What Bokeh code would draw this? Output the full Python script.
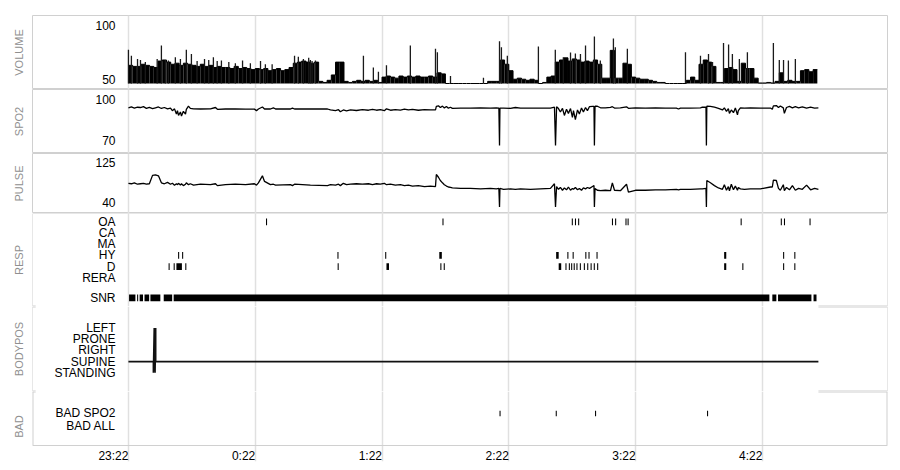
from bokeh.plotting import figure
from bokeh.layouts import column
from bokeh.models import FixedTicker, Range1d, Title, Span, Grid
from bokeh.embed import file_html
from bokeh.resources import INLINE

# ---------------- data (time = minutes after 23:22) ----------------
X_TICKS = [0, 60, 120, 180, 240, 300]
X_TICK_LABELS = ["23:22", "0:22", "1:22", "2:22", "3:22", "4:22"]

# respiration volume: 2-minute envelope + individual breath spikes
VOL_T = list(range(0, 326, 2))
VOL_FILL = [67, 66, 66, 68, 67, 66, 65, 71, 72, 70, 68, 69, 67, 69, 68, 67, 66, 68, 66, 67,
            65, 66, 65, 65, 64, 66, 64, 65, 64, 63, 64, 63, 64, 62, 63, 64, 62, 63, 65, 69,
            70, 71, 70, 69, 70, 52, 51, 53, 58, 70, 70, 52, 51, 52, 53, 52, 53, 52, 53, 51,
            56, 57, 56, 55, 57, 56, 57, 56, 57, 56, 56, 57, 56, 60, 59, 50, 50, 50, 50, 50,
            50, 50, 50, 50, 50, 52, 52, 52, 72, 68, 62, 54, 55, 54, 53, 54, 53, 50, 51, 56,
            57, 70, 72, 74, 71, 73, 72, 70, 71, 70, 72, 68, 55, 55, 81, 55, 55, 69, 68, 56,
            55, 54, 54, 53, 52, 51, 51, 50, 50, 50, 50, 50, 53, 56, 53, 68, 72, 70, 66, 51,
            51, 64, 65, 63, 52, 69, 64, 64, 55, 50.5, 50.5, 51, 50.5, 52, 60, 52, 53, 52, 52,
            62, 63, 61, 63]
VOL_SPIKE_T = [0.0, 1.4, 4.3, 5.7, 8.0, 13.6, 15.6, 17.5, 18.9, 22.2,
               24.6, 27.4, 29.8, 32.5, 36.0, 38.0, 40.2, 42.0, 44.0, 47.5,
               50.6, 54.0, 57.7, 62.5, 64.8, 68.0, 78.6, 80.4, 82.8, 85.3,
               86.1, 86.9, 88.5, 111.2, 115.9, 118.3, 122.1, 133.4, 145.3, 146.2,
               152.4, 168.0, 175.6, 176.5, 179.3, 194.0, 202.0, 205.8, 209.2, 211.5,
               213.9, 216.3, 220.5, 223.3, 229.5, 230.4, 236.1, 263.6, 270.7, 274.5,
               276.4, 281.6, 284.0, 285.8, 289.1, 292.9, 305.2, 308.0, 310.0, 312.3,
               315.6]
VOL_SPIKE_V = [81.5, 76, 73, 72, 70, 73, 85.5, 72, 71.5, 74.6,
               73, 81.5, 77.7, 71, 73, 72, 74.6, 71, 71.5, 70,
               69, 71.5, 69, 71, 68, 68, 76, 75, 73, 74,
               72, 71, 71.5, 76, 65, 61, 67, 85.5, 82.4, 79.3,
               57, 55.5, 89.5, 84, 76, 84.5, 81.5, 74.6, 79, 78,
               77.7, 85.5, 94, 71.5, 92, 84, 82.4, 79.3, 76, 77.7,
               70, 88, 86.5, 77.7, 73, 79.3, 88, 72, 72, 71.5,
               73]

SIG_T = [0, 1.4, 2.8, 4.3, 5.7, 7.1, 8.5, 9.9, 11.4, 12.8,
         14.2, 15.6, 17.0, 18.5, 19.9, 20.8, 21.8, 22.7, 23.2, 23.7,
         24.6, 25.1, 26.0, 27.0, 27.4, 28.4, 29.3, 30.8, 34.1, 38.8,
         41.2, 42.1, 45.9, 50.6, 55.4, 59.6, 60.6, 61.5, 63.4, 64.4,
         67.2, 68.6, 69.6, 76.7, 77.6, 78.6, 86.1, 94.2, 95.6, 98.0,
         99.4, 100.3, 101.7, 103.2, 105.1, 107.9, 110.7, 113.6, 115.5, 117.4,
         119.2, 121.1, 122.1, 124.0, 126.3, 128.7, 130.6, 132.5, 134.4, 137.2,
         140.1, 142.9, 145.3, 145.7, 146.7, 147.6, 148.6, 149.5, 150.5, 151.4,
         152.4, 153.3, 157.1, 161.8, 166.6, 171.3, 174.1, 175.3, 175.6, 175.8,
         177.5, 180.8, 183.1, 185.5, 190.2, 195.0, 199.7, 201.6, 202.1, 202.6,
         203.5, 204.4, 205.4, 206.3, 207.3, 208.2, 209.2, 210.1, 210.6, 211.5,
         212.5, 213.4, 214.4, 215.3, 216.3, 217.2, 218.2, 219.6, 220.3, 220.5,
         220.8, 221.9, 223.4, 225.7, 228.1, 229.0, 230.0, 232.8, 235.7, 236.6,
         239.9, 244.6, 249.4, 254.1, 259.3, 260.3, 261.2, 265.9, 270.7, 271.6,
         273.3, 273.5, 273.7, 275.4, 277.3, 279.2, 281.1, 282.0, 283.0, 283.9,
         284.4, 285.3, 286.3, 287.2, 288.2, 288.6, 289.6, 291.5, 294.3, 299.1,
         303.8, 304.7, 305.2, 306.6, 307.6, 308.5, 309.9, 310.4, 311.4, 312.8,
         314.2, 315.6, 317.1, 318.9, 320.9, 322.8, 324.7, 326.5]
SPO2 = [97.5, 98.2, 97.4, 98.0, 97.8, 98.4, 97.2, 97.9, 97.0, 97.6,
        98.2, 97.1, 97.8, 96.8, 97.4, 95.5, 96.8, 93.0, 95.5, 92.0,
        94.5, 91.5, 95.0, 93.0, 96.5, 98.8, 97.2, 96.8, 96.7, 96.8,
        97.8, 96.5, 96.7, 96.7, 96.6, 96.6, 95.5, 96.7, 98.2, 96.7,
        96.7, 97.6, 96.7, 96.7, 97.4, 96.7, 96.7, 96.7, 96.0, 95.5,
        96.2, 94.7, 96.0, 95.4, 96.0, 95.6, 96.2, 95.8, 96.4, 95.8,
        96.3, 95.5, 96.8, 95.8, 96.3, 95.9, 96.6, 96.0, 96.4, 95.8,
        96.2, 96.0, 96.1, 98.6, 99.0, 97.8, 98.8, 97.5, 98.5, 97.3,
        98.0, 97.2, 97.4, 97.3, 97.5, 97.3, 97.5, 97.4, 70, 97.4,
        97.4, 97.2, 97.8, 97.3, 97.4, 97.3, 97.4, 98.0, 70, 98.3,
        97.0, 94.5, 97.2, 92.0, 96.5, 93.5, 97.0, 90.5, 95.5, 89.0,
        96.0, 93.0, 97.5, 94.5, 97.8, 95.5, 98.5, 98.6, 98.6, 70,
        98.8, 98.7, 97.6, 97.5, 97.9, 98.4, 97.4, 97.5, 98.3, 97.2,
        97.5, 97.4, 97.5, 97.4, 97.3, 96.7, 97.4, 97.4, 97.5, 98.0,
        98.0, 70, 98.8, 98.6, 98.0, 97.2, 96.0, 97.5, 95.0, 97.0,
        93.5, 96.0, 94.0, 97.5, 92.5, 95.5, 97.6, 97.4, 97.5, 97.4,
        97.4, 96.5, 99.0, 99.2, 97.8, 98.9, 97.5, 93.5, 97.8, 98.6,
        97.5, 98.4, 97.6, 98.3, 97.4, 98.0, 97.4, 97.6]
PULSE = [91, 90, 92, 89, 90, 91, 89, 90, 108, 109,
         107, 92, 90, 93, 89, 91, 87, 90, 88, 91,
         87, 90, 86, 89, 92, 88, 90, 87, 89, 88,
         90, 86, 88, 89, 88, 90, 87, 92, 107, 95,
         88, 89, 87, 88, 86, 89, 87, 86, 88, 87,
         89, 86, 91, 88, 89, 90, 89, 90, 88, 90,
         89, 91, 88, 89, 87, 88, 86, 87, 85, 86,
         84, 85, 84, 110, 104, 97, 92, 88, 85, 83,
         82, 81, 80, 80, 79, 80, 79, 80, 40, 80,
         78, 79, 78, 79, 78, 79, 80, 90, 40, 84,
         78, 82, 76, 81, 77, 83, 76, 80, 78, 82,
         77, 80, 76, 81, 79, 82, 80, 84, 86, 40,
         80, 76, 75, 76, 75, 92, 76, 75, 89, 72,
         76, 76, 77, 77, 78, 77, 78, 78, 79, 79,
         80, 40, 97, 92, 86, 81, 78, 88, 76, 84,
         75, 89, 77, 85, 76, 82, 79, 78, 79, 79,
         83, 83, 98, 97, 80, 76, 88, 75, 82, 77,
         86, 76, 80, 78, 87, 77, 80, 78]

RESP_ROWS = ["OA", "CA", "MA", "HY", "D", "RERA", "SNR"]
OA_T = [65.1, 148.6, 209.8, 211.3, 212.8, 228.8, 230.3, 235.2, 236.2, 289.7, 308.7, 310.2, 322.3]
OA_D = [0.5] * 13
HY_T = [23.5, 25.4, 98.9, 121.5, 147.1, 202.4, 207.7, 210.2, 216.2, 217.7, 221.5, 281.9, 309.8, 315.1]
HY_D = [0.5, 0.5, 0.5, 0.5, 1.2, 1.2, 0.5, 0.5, 0.5, 0.5, 0.5, 1.0, 0.5, 0.5]
D_T = [19.0, 21.4, 22.7, 26.9, 99.0, 122.1, 147.6, 149.2, 203.6, 206.8, 208.4, 209.5, 210.7,
       212.0, 213.6, 215.5, 217.1, 218.7, 220.2, 221.8, 281.9, 290.5, 309.8, 315.1]
D_D = [0.5, 0.5, 2.6, 0.5, 0.5, 1.2, 0.5, 0.5, 1.2, 0.5, 0.5, 0.5, 0.5,
       0.5, 0.5, 0.5, 0.5, 0.5, 0.5, 0.5, 1.0, 0.5, 0.5, 0.5]
SNR_START = [0.3, 4.1, 5.3, 7.6, 10.4, 16.7, 21.4, 304.7, 307.4, 324.2]
SNR_END = [3.3, 4.6, 6.9, 9.8, 15.1, 20.7, 303.3, 306.6, 323.2, 325.6]

BODY_ROWS = ["LEFT", "PRONE", "RIGHT", "SUPINE", "STANDING"]
BP_T = [0, 11.8, 11.8, 12.2, 12.6, 12.9, 12.9, 326.5]
BP_POS = ["SUPINE", "SUPINE", "STANDING", "LEFT", "STANDING", "LEFT", "SUPINE", "SUPINE"]

BAD_ROWS = ["BAD SPO2", "BAD ALL"]
BAD_SPO2_T = [175.6, 202.2, 220.8, 273.8]

# ---------------- styling / layout ----------------
FONT = "Liberation Sans"
GRID_C = "#e0e0e0"
FRAME_C = "#d0d0d0"
X_START, X_END = -45.4, 359.2
PX_PER_MIN = 855.0 / (X_END - X_START)
DATA_END = SIG_T[-1]
xr = Range1d(X_START, X_END)


def make_panel(name, height, y0, y1, ticks, labels, top=0, bottom=0, outline=True, title_offset=0):
    p = figure(width=892, height=height, x_range=xr, y_range=Range1d(y0, y1),
               output_backend="svg", toolbar_location=None, title=None,
               x_axis_location=("below" if bottom else None),
               min_border_left=32, min_border_right=5,
               min_border_top=top, min_border_bottom=bottom)
    p.grid.visible = False
    p.add_layout(Grid(dimension=0, ticker=FixedTicker(ticks=X_TICKS),
                      grid_line_color=GRID_C, grid_line_width=1.5))
    p.outline_line_color = FRAME_C if outline else None
    ax = p.yaxis[0]
    ax.ticker = FixedTicker(ticks=ticks)
    ax.major_label_overrides = {t: l for t, l in zip(ticks, labels)}
    ax.axis_line_color = None
    ax.major_tick_line_color = None
    ax.minor_tick_line_color = None
    ax.major_tick_out = 0
    ax.major_tick_in = 0
    ax.major_label_standoff = -83
    ax.major_label_text_font = FONT
    ax.major_label_text_font_size = "12px"
    ax.major_label_text_color = "black"
    p.add_layout(Title(text=name, align="center", offset=title_offset, standoff=15,
                       text_font=FONT, text_font_size="11px", text_font_style="normal",
                       text_color="#8f8f8f"), "left")
    return p


# VOLUME
v_off = 4.2
p1 = make_panel("VOLUME", 89, 44.4, 113.6, [100 + v_off, 50 + v_off], ["100", "50"], top=15)
p1.quad(left=VOL_T, right=[t + 2 for t in VOL_T], bottom=50, top=VOL_FILL,
        fill_color="black", line_color=None)
p1.step(x=VOL_T + [VOL_T[-1] + 2], y=VOL_FILL + [VOL_FILL[-1]], mode="after",
        line_color="black", line_width=1)
p1.segment(x0=VOL_SPIKE_T, y0=[50] * len(VOL_SPIKE_T), x1=VOL_SPIKE_T, y1=VOL_SPIKE_V,
           line_color="#1a1a1a", line_width=1.3)

# SPO2
s_off = 3.3
p2 = make_panel("SPO2", 64, 64.15, 110.97, [100 + s_off, 70 + s_off], ["100", "70"])
p2.line(SIG_T, SPO2, line_color="black", line_width=1.3)

# PULSE
pl_off = 9.7
p3 = make_panel("PULSE", 60, 26.0, 155.1, [125 + pl_off, 40 + pl_off], ["125", "40"])
p3.line(SIG_T, PULSE, line_color="black", line_width=1.3)

# RESP
resp_pos = {r: (7 - i if r != "SNR" else 0.21) for i, r in enumerate(RESP_ROWS)}
p4 = make_panel("RESP", 93, -0.56, 7.74, [resp_pos[r] for r in RESP_ROWS], RESP_ROWS, outline=False)
for ts, ds, row in [(OA_T, OA_D, "OA"), (HY_T, HY_D, "HY"), (D_T, D_D, "D")]:
    y = resp_pos[row]
    p4.quad(left=ts, right=[t + d for t, d in zip(ts, ds)], bottom=y - 0.3, top=y + 0.3,
            fill_color="black", line_color=None)
ys = resp_pos["SNR"]
p4.quad(left=SNR_START, right=SNR_END, bottom=ys - 0.31, top=ys + 0.31,
        fill_color="black", line_color=None)

# BODYPOS
body_pos = {r: 4 - i for i, r in enumerate(BODY_ROWS)}
p5 = make_panel("BODYPOS", 85, -1.67, 5.92, [body_pos[r] for r in BODY_ROWS], BODY_ROWS, outline=False)
p5.line(BP_T, [body_pos[b] for b in BP_POS], line_color="#111111", line_width=1.6)

# BAD (frame extends below the box so the grid lines run down beside the time labels)
bad_pos = {"BAD SPO2": 1, "BAD ALL": 0}
BAD_TOP, BAD_BOX_BOTTOM, BAD_BOTTOM = 2.73, -1.52, -2.78
p6 = make_panel("BAD", 74, BAD_BOTTOM, BAD_TOP, [bad_pos[r] for r in BAD_ROWS], BAD_ROWS,
                bottom=4, outline=False, title_offset=8)
p6.quad(left=BAD_SPO2_T, right=[t + 0.5 for t in BAD_SPO2_T],
        bottom=bad_pos["BAD SPO2"] - 0.22, top=bad_pos["BAD SPO2"] + 0.22,
        fill_color="black", line_color=None)


def label_width(s):
    return sum(6.67 if c.isdigit() else 3.34 for c in s)


# labels end at their grid line: centre each label half its width to the left
x_label_pos = [t - 0.5 * label_width(l) / PX_PER_MIN for t, l in zip(X_TICKS, X_TICK_LABELS)]
xa = p6.xaxis[0]
xa.ticker = FixedTicker(ticks=x_label_pos)
xa.major_label_overrides = {t: l for t, l in zip(x_label_pos, X_TICK_LABELS)}
xa.axis_line_color = None
xa.minor_tick_line_color = None
xa.major_tick_line_color = None
xa.major_tick_out = 0
xa.major_tick_in = 0
xa.major_label_standoff = -13
xa.major_label_text_font = FONT
xa.major_label_text_font_size = "12px"
xa.major_label_text_color = "black"

# frame lines for the lower three panels
for p in (p4, p5):
    p.add_layout(Span(location=X_START, dimension="height", line_color=FRAME_C, line_width=1))
    p.add_layout(Span(location=X_END, dimension="height", line_color=FRAME_C, line_width=1))
p6.segment(x0=[X_START, X_END], y0=[BAD_BOX_BOTTOM] * 2, x1=[X_START, X_END], y1=[BAD_TOP] * 2,
           line_color=FRAME_C, line_width=2)
p4.add_layout(Span(location=7.74, dimension="width", line_color=FRAME_C, line_width=1))
p6.add_layout(Span(location=BAD_BOX_BOTTOM, dimension="width", line_color=FRAME_C, line_width=1))
# short separators right of the recorded data, and small notches at the left edge
notch = X_START + 1.5
p4.segment(x0=[DATA_END, X_START], y0=[-0.56] * 2, x1=[X_END, notch], y1=[-0.56] * 2,
           line_color=FRAME_C, line_width=2)
p5.segment(x0=[DATA_END, DATA_END, X_START, X_START], y0=[5.92, -1.67, 5.92, -1.67],
           x1=[X_END, X_END, notch, notch], y1=[5.92, -1.67, 5.92, -1.67],
           line_color=FRAME_C, line_width=2)
p6.segment(x0=[DATA_END, X_START], y0=[BAD_TOP] * 2, x1=[X_END, notch], y1=[BAD_TOP] * 2,
           line_color=FRAME_C, line_width=2)

layout = column(p1, p2, p3, p4, p5, p6, spacing=0)
open("out.html", "w").write(file_html(layout, INLINE))
